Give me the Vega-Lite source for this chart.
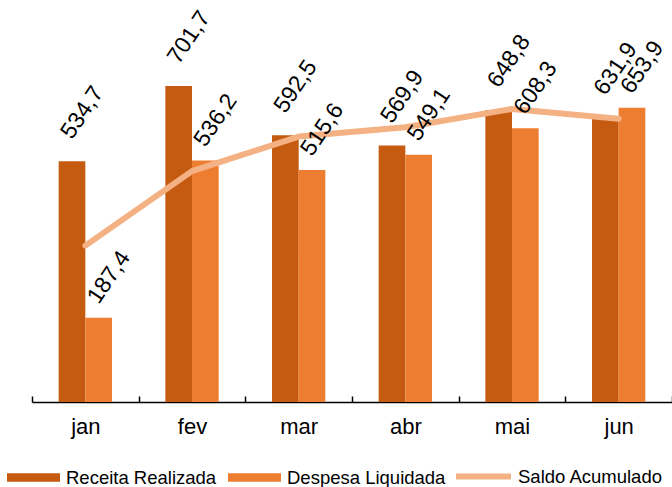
{
  "$schema": "https://vega.github.io/schema/vega-lite/v6.json",
  "width": 640,
  "height": 402,
  "autosize": {"type": "none"},
  "padding": {"left": 32, "top": 0, "right": 0, "bottom": 85},
  "background": "white",
  "config": {
    "view": {"stroke": null},
    "font": "Liberation Sans",
    "locale": {"number": {"decimal": ",", "thousands": ".", "grouping": [3], "currency": ["R$", ""]}}
  },
  "datasets": {
    "barras": [
      {"mes": "jan", "serie": "Receita Realizada", "valor": 534.7},
      {"mes": "jan", "serie": "Despesa Liquidada", "valor": 187.4},
      {"mes": "fev", "serie": "Receita Realizada", "valor": 701.7},
      {"mes": "fev", "serie": "Despesa Liquidada", "valor": 536.2},
      {"mes": "mar", "serie": "Receita Realizada", "valor": 592.5},
      {"mes": "mar", "serie": "Despesa Liquidada", "valor": 515.6},
      {"mes": "abr", "serie": "Receita Realizada", "valor": 569.9},
      {"mes": "abr", "serie": "Despesa Liquidada", "valor": 549.1},
      {"mes": "mai", "serie": "Receita Realizada", "valor": 648.8},
      {"mes": "mai", "serie": "Despesa Liquidada", "valor": 608.3},
      {"mes": "jun", "serie": "Receita Realizada", "valor": 631.9},
      {"mes": "jun", "serie": "Despesa Liquidada", "valor": 653.9}
    ],
    "saldo": [
      {"mes": "jan", "serie": "Saldo Acumulado", "valor": 347.3},
      {"mes": "fev", "serie": "Saldo Acumulado", "valor": 512.8},
      {"mes": "mar", "serie": "Saldo Acumulado", "valor": 589.7},
      {"mes": "abr", "serie": "Saldo Acumulado", "valor": 610.5},
      {"mes": "mai", "serie": "Saldo Acumulado", "valor": 651.0},
      {"mes": "jun", "serie": "Saldo Acumulado", "valor": 629.0}
    ]
  },
  "layer": [
    {
      "data": {"name": "barras"},
      "mark": {"type": "bar"},
      "encoding": {
        "x": {
          "field": "mes", "type": "nominal",
          "sort": ["jan", "fev", "mar", "abr", "mai", "jun"],
          "scale": {"paddingInner": 0, "paddingOuter": 0},
          "axis": {
            "title": null, "labelAngle": 0, "domainColor": "black", "domainWidth": 1.5,
            "tickColor": "black", "tickWidth": 1.5, "tickSize": -6, "tickBand": "extent",
            "labelFontSize": 22, "labelColor": "black", "labelPadding": 20, "labelFont": "Liberation Sans"
          }
        },
        "xOffset": {
          "field": "serie", "type": "nominal",
          "sort": ["Receita Realizada", "Despesa Liquidada"],
          "scale": {"paddingInner": 0, "paddingOuter": 1.1}
        },
        "y": {"field": "valor", "type": "quantitative", "scale": {"domain": [0, 893], "nice": false}, "axis": null},
        "color": {
          "field": "serie", "type": "nominal",
          "scale": {"domain": ["Receita Realizada", "Despesa Liquidada"], "range": ["#C55A11", "#ED7D31"]},
          "legend": {
            "orient": "none", "legendX": -25, "legendY": 451, "direction": "horizontal", "title": null,
            "symbolType": "M-1,-0.16H1V0.16H-1Z", "symbolSize": 2809, "symbolStrokeWidth": 0,
            "labelFontSize": 18.5, "labelColor": "black", "labelOffset": 6, "columnPadding": 11, "padding": 0,
            "labelFont": "Liberation Sans"
          }
        }
      }
    },
    {
      "data": {"name": "saldo"},
      "mark": {"type": "line", "strokeWidth": 6, "strokeCap": "round", "strokeJoin": "round"},
      "encoding": {
        "x": {"field": "mes", "type": "nominal", "sort": ["jan", "fev", "mar", "abr", "mai", "jun"]},
        "y": {"field": "valor", "type": "quantitative"},
        "stroke": {
          "field": "serie", "type": "nominal",
          "scale": {"domain": ["Saldo Acumulado"], "range": ["#F4B183"]},
          "legend": {
            "orient": "none", "legendX": 421, "legendY": 446, "direction": "horizontal", "title": null,
            "symbolType": "stroke", "symbolSize": 3025, "symbolStrokeWidth": 6,
            "labelFontSize": 18.5, "labelColor": "black", "labelOffset": 4, "padding": 0,
            "labelFont": "Liberation Sans"
          }
        }
      }
    },
    {
      "data": {"name": "barras"},
      "transform": [{"filter": "datum.serie === 'Receita Realizada'"}],
      "mark": {"type": "text", "angle": 304, "align": "left", "baseline": "alphabetic", "dx": 17.4, "dy": -11.7, "fontSize": 23, "color": "black", "font": "Liberation Sans"},
      "encoding": {
        "x": {"field": "mes", "type": "nominal", "sort": ["jan", "fev", "mar", "abr", "mai", "jun"]},
        "xOffset": {"field": "serie", "type": "nominal", "sort": ["Receita Realizada", "Despesa Liquidada"]},
        "y": {"field": "valor", "type": "quantitative"},
        "text": {"field": "valor", "type": "quantitative", "format": ",.1f"}
      }
    },
    {
      "data": {"name": "barras"},
      "transform": [{"filter": "datum.serie === 'Despesa Liquidada'"}],
      "mark": {"type": "text", "angle": 304, "align": "left", "baseline": "alphabetic", "dx": 10.4, "dy": -7, "fontSize": 23, "color": "black", "font": "Liberation Sans"},
      "encoding": {
        "x": {"field": "mes", "type": "nominal", "sort": ["jan", "fev", "mar", "abr", "mai", "jun"]},
        "xOffset": {"field": "serie", "type": "nominal", "sort": ["Receita Realizada", "Despesa Liquidada"]},
        "y": {"field": "valor", "type": "quantitative"},
        "text": {"field": "valor", "type": "quantitative", "format": ",.1f"}
      }
    }
  ]
}
